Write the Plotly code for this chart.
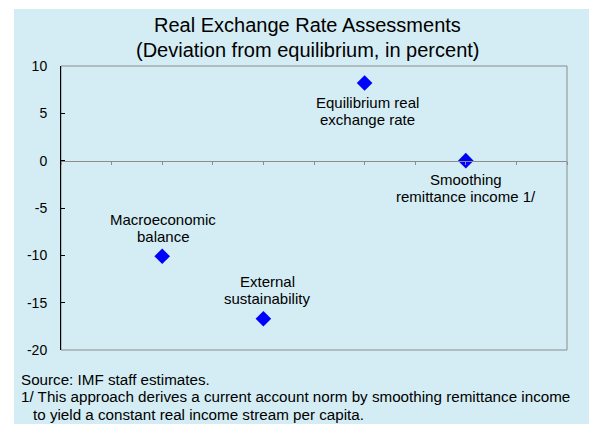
import plotly.graph_objects as go

# ---- data ----
point_labels = [["Macroeconomic", "balance"],
                ["External", "sustainability"],
                ["Equilibrium real", "exchange rate"],
                ["Smoothing", "remittance income 1/"]]
x_pos = [2, 4, 6, 8]
values = [-10.1, -16.7, 8.2, 0.0]
label_side = ["above", "above", "below", "below"]
y_ticks = [-20, -15, -10, -5, 0, 5, 10]
y_tick_text = ["-20", "-15", "-10", "-5", "0", "5", "10"]
x_ticks = list(range(0, 11))
title_lines = ["Real Exchange Rate Assessments", "(Deviation from equilibrium, in percent)"]
footnotes = ["Source: IMF staff estimates.",
             "1/ This approach derives a current account norm by smoothing remittance income",
             "to yield a constant real income stream per capita."]

# ---- layout geometry ----
W, H = 589, 424
L, R, T, B = 61, 22, 66, 74
pw, ph = W - L - R, H - T - B
def px_x(px): return (px - L) / pw
def px_y(py): return (H - B - py) / ph

FONT = "Liberation Sans, Arial, sans-serif"
BG = "#D4EDF4"
BLUE = "#0000FF"
GRAY = "#8C8C8C"

fig = go.Figure()
fig.add_trace(go.Scatter(
    x=x_pos, y=values, mode="markers",
    marker=dict(symbol="diamond", size=12, color=BLUE, line=dict(width=0)),
    cliponaxis=False, showlegend=False, hoverinfo="skip"))

ann = []
xshift = [1, 4, 3, 0]
for i, lines in enumerate(point_labels):
    shifts = [37, 20] if label_side[i] == "above" else [-19, -36]
    for j, line in enumerate(lines):
        ann.append(dict(x=x_pos[i], y=values[i], xref="x", yref="y", text=line,
                        showarrow=False, xanchor="center", yanchor="middle",
                        xshift=xshift[i], yshift=shifts[j],
                        font=dict(family=FONT, size=15, color="black")))
for line, py in zip(title_lines, [24.5, 50]):
    ann.append(dict(x=px_x(307), y=px_y(py), xref="paper", yref="paper", text=line,
                    showarrow=False, xanchor="center", yanchor="middle",
                    font=dict(family=FONT, size=20, color="black")))
for line, px, py in zip(footnotes, [19, 19, 31], [379, 396.5, 414]):
    ann.append(dict(x=px_x(px), y=px_y(py), xref="paper", yref="paper", text=line,
                    showarrow=False, xanchor="left", yanchor="middle",
                    font=dict(family=FONT, size=15.2, color="black")))

shapes = [
    dict(type="rect", xref="paper", yref="paper", x0=0, x1=1, y0=0, y1=1,
         line=dict(color=GRAY, width=1), fillcolor="rgba(0,0,0,0)", layer="below"),
    dict(type="rect", xref="paper", yref="paper", x0=px_x(-2), x1=px_x(14),
         y0=px_y(H + 2), y1=px_y(-2), line=dict(width=0), fillcolor="white", layer="above"),
    dict(type="rect", xref="paper", yref="paper", x0=px_x(-2), x1=px_x(W + 2),
         y0=px_y(9), y1=px_y(-2), line=dict(width=0), fillcolor="white", layer="above"),
]

ymin, ymax = min(y_ticks), max(y_ticks)
fig.update_layout(
    width=W, height=H, margin=dict(l=L, r=R, t=T, b=B, autoexpand=False),
    paper_bgcolor=BG, plot_bgcolor="rgba(0,0,0,0)",
    font=dict(family=FONT, size=14, color="black"),
    annotations=ann, shapes=shapes, showlegend=False,
    xaxis=dict(range=[x_ticks[0], x_ticks[-1]], tickvals=x_ticks, showticklabels=False,
               anchor="free", position=(0 - ymin) / (ymax - ymin),
               showline=True, linecolor=GRAY, linewidth=1,
               ticks="outside", ticklen=3, tickcolor=GRAY, tickwidth=1,
               showgrid=False, zeroline=False, fixedrange=True),
    yaxis=dict(range=[ymin, ymax], tickvals=y_ticks, ticktext=y_tick_text,
               showline=True, linecolor="black", linewidth=1,
               ticks="inside", ticklen=4, tickcolor="black", tickwidth=1,
               ticklabelstandoff=10,
               tickfont=dict(family=FONT, size=14, color="black"),
               showgrid=False, zeroline=False, fixedrange=True),
)

fig.write_html("out.html", config={"displayModeBar": False},
               post_script="document.body.style.margin='0';document.body.style.overflow='hidden';")
